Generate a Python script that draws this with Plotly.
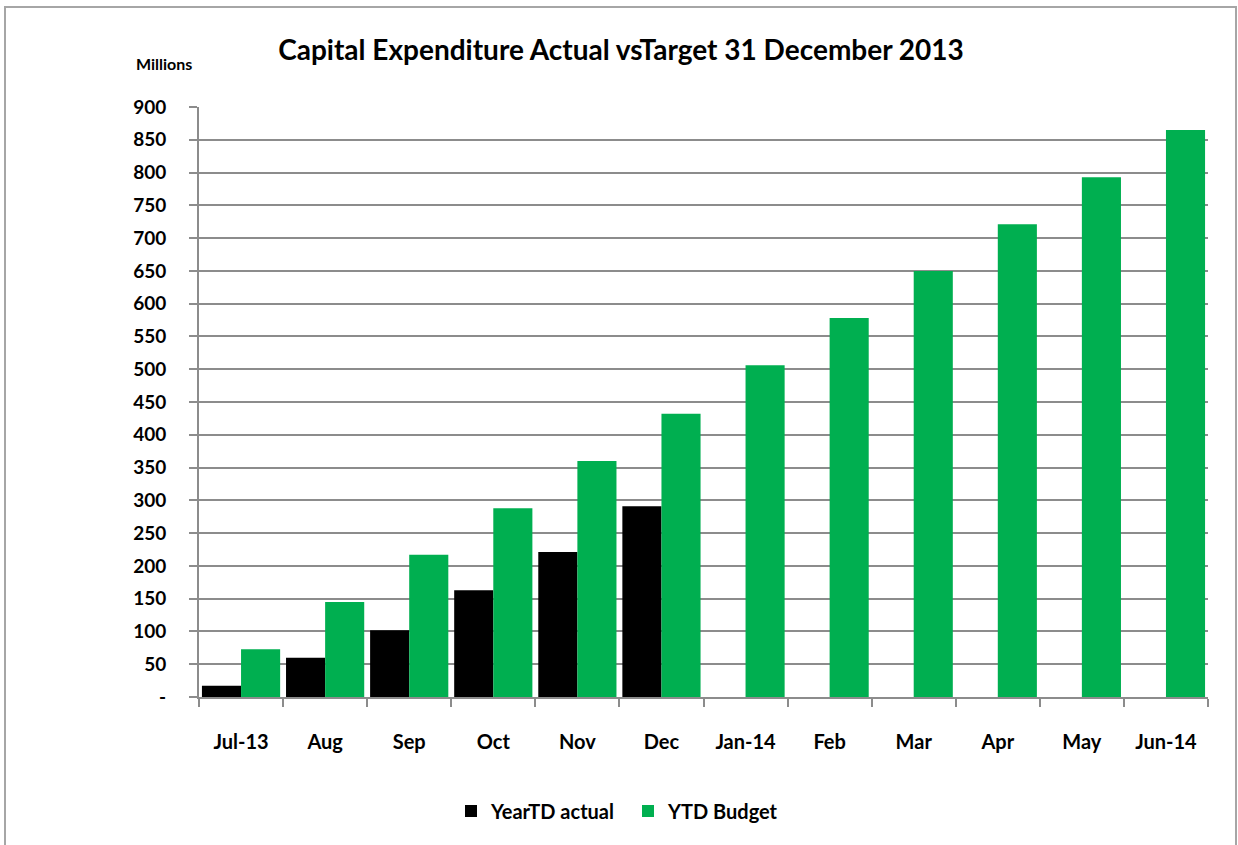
import plotly.graph_objects as go

categories = ["Jul-13", "Aug", "Sep", "Oct", "Nov", "Dec", "Jan-14", "Feb", "Mar", "Apr", "May", "Jun-14"]
actual = [17, 60, 102, 163, 221, 291, None, None, None, None, None, None]
budget = [73, 145, 217, 288, 360, 432, 506, 578, 650, 721, 793, 865]
y_ticks = [0, 50, 100, 150, 200, 250, 300, 350, 400, 450, 500, 550, 600, 650, 700, 750, 800, 850, 900]
y_tick_text = ["-"] + [str(v) for v in y_ticks[1:]]

FONT = "Lato, Liberation Sans, sans-serif"

fig = go.Figure()
fig.add_trace(go.Bar(name="<b>YearTD actual</b>", x=categories, y=actual, marker=dict(color="#000000", line=dict(width=0))))
fig.add_trace(go.Bar(name="<b>YTD Budget</b>", x=categories, y=budget, marker=dict(color="#00AF50", line=dict(width=0))))

PW, PH = 1238 - 199 - 30, 845 - 107 - 148

fig.update_layout(
    width=1238, height=845,
    margin=dict(l=199, r=30, t=107, b=148, autoexpand=False),
    paper_bgcolor="white", plot_bgcolor="white",
    barmode="group", bargap=0.07, bargroupgap=0,
    font=dict(family=FONT, color="black"),
    title=dict(text="<b>Capital Expenditure Actual vsTarget 31 December 2013</b>",
               x=(621 - 199) / PW, xref="paper", xanchor="center", y=1 - 50 / 845, yref="container", yanchor="middle",
               font=dict(size=28, family=FONT)),
    showlegend=True,
    legend=dict(orientation="h", x=(451 - 199) / PW, xanchor="left",
                y=-(811 - 697) / PH, yanchor="middle", font=dict(size=20, family=FONT),
                traceorder="normal", entrywidth=132),
    xaxis=dict(
        type="category", showline=True, linecolor="#8c8c8c", linewidth=2,
        ticks="outside", tickson="boundaries", ticklen=8, tickcolor="#8c8c8c", tickwidth=1.5,
        tickfont=dict(size=20, family=FONT), ticklabelstandoff=26, tickangle=0,
        tickvals=categories, ticktext=["<b>%s</b>" % c for c in categories],
        showgrid=False, automargin=False,
    ),
    yaxis=dict(
        range=[0, 900], tickvals=y_ticks, ticktext=["<b>%s</b>" % t for t in y_tick_text],
        showgrid=True, gridcolor="#8c8c8c", gridwidth=2,
        showline=True, linecolor="#8c8c8c", linewidth=2,
        ticks="outside", ticklen=8, tickcolor="#8c8c8c", tickwidth=1.5,
        tickfont=dict(size=19, family=FONT), ticklabelstandoff=19,
        zeroline=False, automargin=False,
    ),
)

fig.add_annotation(text="<b>Millions</b>", xref="paper", yref="paper", x=-(199 - 194) / PW, y=1 + (107 - 64) / PH,
                   xanchor="right", yanchor="middle", showarrow=False,
                   font=dict(size=16, family=FONT))

fig.add_shape(type="rect", xref="paper", yref="paper",
              x0=-(199 - 5) / PW, x1=1 + (1236 - 1208) / PW, y0=-0.5, y1=1 + (107 - 7) / PH,
              line=dict(color="#a6a6a6", width=2), fillcolor="rgba(0,0,0,0)", layer="below")

fig.write_html("out.html")
